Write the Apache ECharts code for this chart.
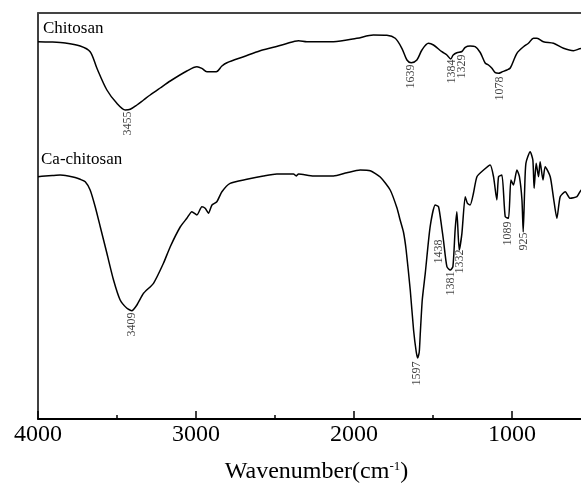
<!DOCTYPE html>
<html><head><meta charset="utf-8">
<script src="https://cdn.jsdelivr.net/npm/echarts@6/dist/echarts.min.js"></script>
<style>html,body{margin:0;padding:0;background:#fff}#c{width:581px;height:485px}</style>
</head><body><div id="c"></div>
<script>
// Chitosan spectrum (wavenumber, arbitrary transmittance units)
const chitosanX = [4000,3923,3828,3733,3670,3627,3564,3501,3448,3416,3374,3332,3290,3227,3163,3058,2994,2963,2931,2872,2836,2804,2699,2594,2510,2435,2351,2298,2130,1982,1877,1792,1739,1697,1665,1638,1602,1570,1529,1497,1444,1412,1388,1372,1349,1317,1296,1265,1233,1201,1170,1149,1127,1106,1085,1064,1032,1011,969,927,896,864,842,801,737,674,611,562,500];
const chitosanY = [377.3,377,376,373,367.3,350.7,329,315.7,309,309.7,314,319,324,331,338,348,352.3,350.7,347.3,347.3,353,356.3,362.3,368.3,371.7,375,378.3,377.3,377.3,380.7,384,383.7,380.7,370.7,359,356.3,359,369,375.7,374,367.3,364,360,364,366.3,367.5,371.7,373,372.3,366.5,356,354,350.7,346.3,345.7,347,349,351,365.7,372.3,375.7,380.7,380.7,377.3,375.7,370.7,368.3,370.5,370];
// Ca-chitosan spectrum
const caX = [4000,3954,3910,3860,3809,3765,3733,3701,3670,3638,3606,3564,3522,3480,3437,3406,3374,3332,3269,3206,3163,3100,3058,3026,2994,2963,2942,2921,2899,2868,2836,2784,2678,2573,2488,2383,2366,2351,2256,2130,2045,1961,1897,1834,1771,1728,1708,1687,1670,1644,1623,1606,1597,1587,1581,1568,1549,1518,1486,1465,1444,1434,1412,1391,1374,1360,1349,1334,1317,1296,1282,1265,1244,1222,1180,1138,1117,1096,1085,1064,1043,1022,1007,991,969,953,937,929,920,912,885,868,860,847,832,822,804,790,758,737,716,695,663,632,589,562,500];
const caY = [242.3,243,243.5,244,243,241.5,239.7,237.3,229,212.3,192.3,165.7,139,119,110.7,108.3,114,125.7,135.7,155.7,172.3,192,200.7,207.3,204,212.3,210.7,205.7,214,217.3,227.3,235.7,239.7,243,245,245,243,245,243,243,246.3,249,248.3,242,229,211,199,187,169,129,89,67,61,67,84,119,145.7,192.3,214,212.3,190.7,179,152.3,149,152.3,189,207.3,169,185.7,222.3,215.7,214,225.7,242.3,249,254,242.3,219,242.3,244,202.3,200.7,239,234,249,242.3,219,187,229,255.7,267.3,259,230.7,255.7,242.3,257.3,239,252.3,242.3,220.7,200.7,222.3,227.3,220.7,222.3,229,232];
// Peak annotations: text, anchor wavenumber, anchor value
const chitosanPeakText = ['3455','1639','1384','1329','1078'];
const chitosanPeakX = [3429,1634,1380,1317,1075];
const chitosanPeakY = [307,354,359,364,342];
const caPeakText = ['3409','1597','1438','1381','1332','1089','925'];
const caPeakX = [3406,1600,1459,1385,1328,1026,923];
const caPeakY = [106,57,179,147,169,197,186];
const seriesNames = ['Chitosan','Ca-chitosan'];
const xTickLabels = ['0','1000','2000','3000','4000'];

const FONT = "'Liberation Serif','Times New Roman',serif";
const zip = (xs, ys) => xs.map((x, i) => [x, ys[i]]);
const peaks = (t, xs, ys) => t.map((s, i) => ({name: s, value: [xs[i], ys[i]]}));

const peakLabel = {
  show: true, formatter: p => p.name, rotate: 90, position: [0, 0],
  align: 'right', verticalAlign: 'middle', fontFamily: FONT, fontSize: 12, color: '#111'
};

const chart = echarts.init(document.getElementById('c'), null, {renderer: 'canvas'});
chart.setOption({
  animation: false,
  backgroundColor: '#fff',
  grid: {left: 38, top: 13, height: 406, width: 632, containLabel: false, outerBoundsMode: 'none'},
  xAxis: [{
    type: 'value', min: 0, max: 4000, interval: 1000, inverse: true,
    axisLine: {show: true, onZero: false, lineStyle: {color: '#000', width: 2}},
    axisTick: {show: true, inside: true, length: 8, lineStyle: {color: '#000', width: 1.5}},
    minorTick: {show: true, splitNumber: 2, length: 4, lineStyle: {color: '#000', width: 1.5}},
    splitLine: {show: false},
    axisLabel: {fontFamily: FONT, fontSize: 24, color: '#000', margin: 4,
      formatter: v => xTickLabels[Math.round(v / 1000)]},
    name: 'Wavenumber(cm{sup|-1})', nameLocation: 'middle', nameGap: 41,
    nameTextStyle: {fontFamily: FONT, fontSize: 24, color: '#000', padding: [0, 75, 0, 0],
      rich: {sup: {fontFamily: FONT, fontSize: 13, verticalAlign: 'top', color: '#000', padding: [0,0,10,0]}}}
  }, {
    type: 'value', position: 'top', min: 0, max: 4000, inverse: true,
    axisLine: {show: true, onZero: false, lineStyle: {color: '#444', width: 2}},
    axisTick: {show: false}, axisLabel: {show: false}, splitLine: {show: false}
  }],
  yAxis: {
    type: 'value', min: 0, max: 406, position: 'left',
    axisLine: {show: true, onZero: false, lineStyle: {color: '#000', width: 1.5}},
    axisTick: {show: false}, axisLabel: {show: false}, splitLine: {show: false}
  },
  series: [
    {name: seriesNames[0], type: 'line', data: zip(chitosanX, chitosanY), showSymbol: false,
     smooth: 0.3, lineStyle: {color: '#000', width: 1.5}},
    {name: seriesNames[1], type: 'line', data: zip(caX, caY), showSymbol: false,
     smooth: 0.2, lineStyle: {color: '#000', width: 1.5}},
    {type: 'scatter', data: peaks(chitosanPeakText, chitosanPeakX, chitosanPeakY),
     symbolSize: 1, itemStyle: {color: 'rgba(0,0,0,0)'}, label: peakLabel},
    {type: 'scatter', data: peaks(caPeakText, caPeakX, caPeakY),
     symbolSize: 1, itemStyle: {color: 'rgba(0,0,0,0)'}, label: peakLabel}
  ],
  graphic: [
    {type: 'text', left: 43, top: 20, style: {text: seriesNames[0], font: "17px " + FONT, fill: '#000'}},
    {type: 'text', left: 41, top: 151, style: {text: seriesNames[1], font: "17px " + FONT, fill: '#000'}}
  ]
});
</script></body></html>
